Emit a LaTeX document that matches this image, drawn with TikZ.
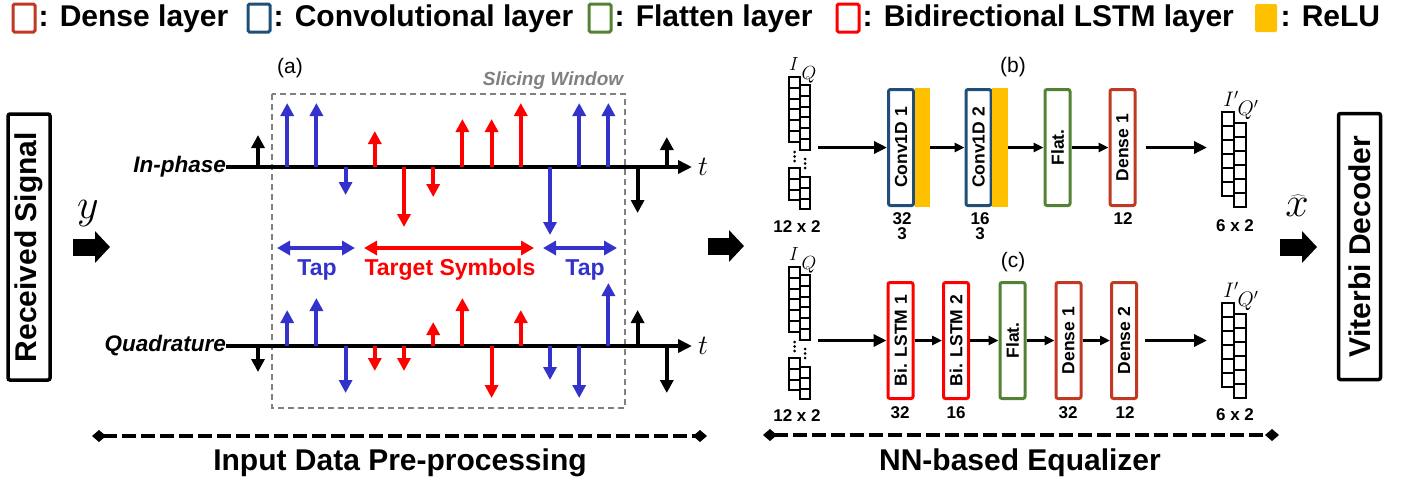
\RequirePackage{fix-cm}
\documentclass[tikz,border=0pt]{standalone}
\usepackage{fontspec}
\setmainfont{Liberation Sans}
\usetikzlibrary{arrows.meta,positioning}

\definecolor{sigblue}{RGB}{51,51,204}
\definecolor{sigred}{RGB}{255,0,0}
\definecolor{densered}{RGB}{192,57,35}
\definecolor{convblue}{RGB}{31,78,121}
\definecolor{flatgreen}{RGB}{84,130,53}
\definecolor{lstmred}{RGB}{255,0,0}
\definecolor{reluyellow}{RGB}{255,192,0}
\definecolor{wingray}{RGB}{128,128,128}

\tikzset{
  legbox/.style={draw, line width=3pt, rounded corners=1.5pt, minimum width=22pt, minimum height=28pt, inner sep=0pt},
  legtext/.style={font=\fontsize{30}{30}\selectfont\bfseries, inner sep=0pt, text height=22pt, text depth=6pt},
  stem/.style={line width=4pt, -{Triangle[length=13pt,width=13pt]}},
  timeaxis/.style={line width=4.5pt, -{Triangle[length=14pt,width=13pt]}},
  span/.style={line width=3.5pt, {Triangle[length=13pt,width=14pt]}-{Triangle[length=13pt,width=14pt]}},
  spanlbl/.style={font=\fontsize{23}{23}\selectfont\bfseries, inner sep=0pt},
  axislbl/.style={font=\fontsize{22.5}{22.5}\selectfont\bfseries\itshape, inner sep=0pt, anchor=east},
  bigarrow/.style={line width=17pt, -{Triangle[length=15pt,width=31pt]}},
  layer/.style={draw, line width=3pt, rounded corners=2pt, rotate=90, minimum width=116pt, minimum height=25pt, inner sep=0pt, font=\fontsize{17.5}{17.5}\selectfont\bfseries},
  relubar/.style={fill=reluyellow, minimum width=15pt, minimum height=119pt, inner sep=0pt},
  flow/.style={line width=3.3pt, -{Triangle[length=13pt,width=12pt]}},
  shortflow/.style={line width=2.7pt, -{Triangle[length=10pt,width=9pt]}},
  cell/.style={draw, line width=2pt},
  small/.style={font=\fontsize{17}{17}\selectfont\bfseries, inner sep=0pt},
  mathlbl/.style={font=\fontsize{19}{19}\selectfont, inner sep=0pt},
  outlbl/.style={font=\fontsize{21}{21}\selectfont, inner sep=0pt},
  biglbl/.style={font=\fontsize{42}{42}\selectfont, inner sep=0pt},
  tlbl/.style={font=\fontsize{28}{28}\selectfont, inner sep=0pt, anchor=west},
  panellbl/.style={font=\fontsize{21}{21}\selectfont, inner sep=0pt},
  sidebox/.style={draw, line width=3.5pt, rounded corners=2pt, rotate=90, minimum width=266pt, minimum height=42pt, inner sep=0pt, font=\fontsize{30}{30}\selectfont\bfseries},
  stagebar/.style={line width=4pt, dash pattern=on 14pt off 5pt, {Diamond[length=14pt,width=12pt]}-{Diamond[length=14pt,width=12pt]}},
  stagetext/.style={font=\fontsize{30}{30}\selectfont\bfseries, inner sep=0pt},
  winbox/.style={draw=wingray, line width=2pt, dash pattern=on 6pt off 4pt},
}

% input tensor, 12 x 2
\newcommand{\instack}[2]{%
  \foreach \k in {0,...,5} {
    \draw[cell] (#1,{#2+\k*10.8}) rectangle ++(11,10.8);
    \draw[cell] ({#1+11},{#2+8+\k*10.8}) rectangle ++(10,10.8);
  }
  \foreach \k in {0,1,2} {
    \draw[cell] (#1,{#2+91+\k*10.8}) rectangle ++(11,10.8);
    \draw[cell] ({#1+11},{#2+100+\k*10.8}) rectangle ++(10,10.8);
    \fill ({#1+5.5},{#2+75+\k*4.5}) circle (1.5pt);
    \fill ({#1+16},{#2+82+\k*4.5}) circle (1.5pt);
  }
}
% output tensor, 6 x 2
\newcommand{\outstack}[2]{%
  \foreach \k in {0,...,5} {
    \draw[cell] (#1,{#2+\k*14}) rectangle ++(12,14);
    \draw[cell] ({#1+12},{#2+11+\k*14}) rectangle ++(12,14);
  }
}

\begin{document}
\begin{tikzpicture}[x=1pt,y=-1pt]
  \useasboundingbox (0,0) rectangle (1406,483);

  % legend
  \node[legbox, draw=densered] (lgdense) at (24,18) {};
  \node[legtext, right=2pt of lgdense] (lgdensetxt) {: Dense layer};
  \node[legbox, draw=convblue] (lgconv) at (259,18) {};
  \node[legtext, right=2pt of lgconv] (lgconvtxt) {: Convolutional layer};
  \node[legbox, draw=flatgreen] (lgflat) at (600,18) {};
  \node[legtext, right=2pt of lgflat] (lgflattxt) {: Flatten layer};
  \node[legbox, draw=lstmred] (lglstm) at (848,18) {};
  \node[legtext, right=2pt of lglstm] (lglstmtxt) {: Bidirectional LSTM layer};
  \node[legbox, draw=none, fill=reluyellow] (lgrelu) at (1266,18) {};
  \node[legtext, right=2pt of lgrelu] (lgrelutxt) {: ReLU};

  % received signal
  \node[sidebox] (recv) at (29,247) {Received Signal};
  \node[biglbl] (ylbl) at (88,214) {$y$};
  \coordinate (recvout) at (73,247);
  \coordinate (prein) at (110,247);
  \draw[bigarrow] (recvout) -- (prein);

  % (a) slicing of I and Q
  \node[panellbl] (lbla) at (290,68) {(a)};
  \draw[winbox] (272,94) rectangle (625,408);
  \node[font=\fontsize{19}{19}\selectfont\bfseries\itshape, text=wingray, inner sep=0pt] (winlbl) at (553,81) {Slicing Window};

  \node[axislbl] (inph) at (226,167) {In-phase};
  \node[tlbl] (tI) at (698,167) {$t$};
  \draw[timeaxis] (inph.east) -- ([xshift=-6pt]tI.west);
  \foreach \i/\h/\c in {0/32/black, 1/64/sigblue, 2/64/sigblue, 3/-28/sigblue, 4/36/sigred, 5/-60/sigred, 6/-30/sigred, 7/48/sigred, 8/48/sigred, 9/64/sigred, 10/-68/sigblue, 11/64/sigblue, 12/64/sigblue, 13/-46/black, 14/30/black}
    \draw[stem, \c] ({258+29.2*\i},167) -- ({258+29.2*\i},{167-\h});

  \node[axislbl] (quad) at (226,346) {Quadrature};
  \node[tlbl] (tQ) at (698,346) {$t$};
  \draw[timeaxis] (quad.east) -- ([xshift=-6pt]tQ.west);
  \foreach \i/\h/\c in {0/-26/black, 1/36/sigblue, 2/48/sigblue, 3/-47/sigblue, 4/-25/sigred, 5/-25/sigred, 6/24/sigred, 7/48/sigred, 8/-52/sigred, 9/36/sigred, 10/-34/sigblue, 11/-52/sigblue, 12/63/sigblue, 13/36/black, 14/-47/black}
    \draw[stem, \c] ({258+29.2*\i},346) -- ({258+29.2*\i},{346-\h});

  \draw[span, sigblue] (277,248) -- (355,248);
  \draw[span, sigred] (364,248) -- (534,248);
  \draw[span, sigblue] (543,248) -- (617,248);
  \node[spanlbl, text=sigblue] (tapL) at (317,270) {Tap};
  \node[spanlbl, text=sigred] (target) at (450,270) {Target Symbols};
  \node[spanlbl, text=sigblue] (tapR) at (585,270) {Tap};

  \coordinate (preout) at (708,246);
  \coordinate (eqin) at (744,246);
  \draw[bigarrow] (preout) -- (eqin);

  % (b) CNN equalizer
  \node[panellbl] (lblb) at (1013,67) {(b)};
  \instack{789}{77}
  \node[mathlbl] (inIb) at (794,64) {$I$};
  \node[mathlbl] (inQb) at (809,75) {$Q$};
  \node[small] (insizeb) at (797,227) {12 x 2};
  \node[layer, draw=convblue] (conv1) at (901,147.5) {Conv1D 1};
  \node[relubar] (relu1) at (922.5,147.5) {};
  \node[layer, draw=convblue] (conv2) at (978.5,147.5) {Conv1D 2};
  \node[relubar, minimum width=16pt] (relu2) at (1000,147.5) {};
  \node[layer, draw=flatgreen] (flat1) at (1057.5,147.5) {Flat.};
  \node[layer, draw=densered] (dense1) at (1122.5,147.5) {Dense 1};
  \node[small] (conv1n) at (902,219) {32};
  \node[small] (conv1k) at (902,234) {3};
  \node[small] (conv2n) at (980,219) {16};
  \node[small] (conv2k) at (980,234) {3};
  \node[small] (dense1n) at (1123,219) {12};
  \coordinate (bin) at (818,147.5);
  \coordinate (bout) at (1207,147.5);
  \draw[flow] (bin) -- (conv1.north);
  \draw[shortflow] (relu1.east) -- (conv2.north);
  \draw[shortflow] (relu2.east) -- (flat1.north);
  \draw[shortflow] (flat1.south) -- (dense1.north);
  \draw[flow] ([xshift=9pt]dense1.south) -- (bout);
  \outstack{1222}{112}
  \node[outlbl] (outIb) at (1231,99) {$I'$};
  \node[outlbl] (outQb) at (1248,110) {$Q'$};
  \node[small] (outsizeb) at (1235,226) {6 x 2};

  % (c) Bi-LSTM equalizer
  \node[panellbl] (lblc) at (1013,262) {(c)};
  \instack{789}{267}
  \node[mathlbl] (inIc) at (794,254) {$I$};
  \node[mathlbl] (inQc) at (809,265) {$Q$};
  \node[small] (insizec) at (797,416) {12 x 2};
  \node[layer, draw=lstmred] (lstm1) at (900.5,340.5) {Bi. LSTM 1};
  \node[layer, draw=lstmred] (lstm2) at (956,340.5) {Bi. LSTM 2};
  \node[layer, draw=flatgreen] (flat2) at (1012.5,340.5) {Flat.};
  \node[layer, draw=densered] (dense2a) at (1068.5,340.5) {Dense 1};
  \node[layer, draw=densered] (dense2b) at (1124,340.5) {Dense 2};
  \node[small] (lstm1n) at (900,413) {32};
  \node[small] (lstm2n) at (956,413) {16};
  \node[small] (dense2an) at (1068,413) {32};
  \node[small] (dense2bn) at (1125,413) {12};
  \coordinate (cin) at (818,340.5);
  \coordinate (cout) at (1207,340.5);
  \draw[flow] (cin) -- (lstm1.north);
  \draw[shortflow] (lstm1.south) -- (lstm2.north);
  \draw[shortflow] (lstm2.south) -- (flat2.north);
  \draw[shortflow] (flat2.south) -- (dense2a.north);
  \draw[shortflow] (dense2a.south) -- (dense2b.north);
  \draw[flow] ([xshift=7pt]dense2b.south) -- (cout);
  \outstack{1222}{303}
  \node[outlbl] (outIc) at (1231,290) {$I'$};
  \node[outlbl] (outQc) at (1248,301) {$Q'$};
  \node[small] (outsizec) at (1235,415) {6 x 2};

  % decoder
  \node[biglbl] (xhat) at (1297,206) {$\widehat{x}$};
  \coordinate (eqout) at (1280,247);
  \coordinate (decin) at (1317,247);
  \draw[bigarrow] (eqout) -- (decin);
  \node[sidebox] (viterbi) at (1359.5,246.5) {Viterbi Decoder};

  % stages
  \coordinate (preL) at (92,436);
  \coordinate (preR) at (707,436);
  \draw[stagebar] (preL) -- (preR);
  \node[stagetext] (pretxt) at (400,463) {Input Data Pre-processing};
  \coordinate (eqL) at (763,435);
  \coordinate (eqR) at (1279,435);
  \draw[stagebar] (eqL) -- (eqR);
  \node[stagetext] (eqtxt) at (1020,463) {NN-based Equalizer};
\end{tikzpicture}
\end{document}
